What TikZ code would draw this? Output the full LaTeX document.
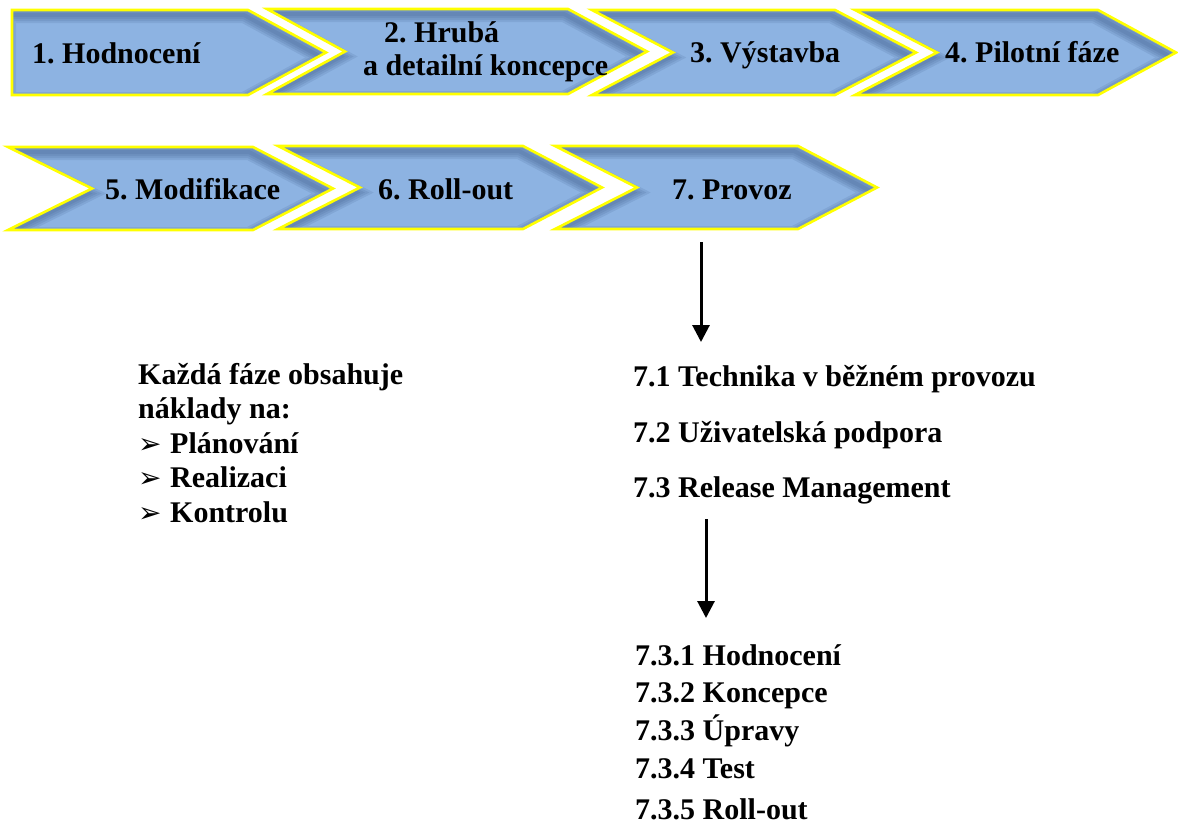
\documentclass[tikz,border=0pt]{standalone}
\usepackage{fontspec}
\setmainfont{Liberation Serif}
\newfontfamily\symfont{DejaVu Sans}
\usepackage{tikz}
\usetikzlibrary{calc,positioning,arrows.meta}
\frenchspacing
\definecolor{phaseblue}{HTML}{8DB3E2}
\definecolor{phaseshade}{HTML}{2E4A78}
\definecolor{phaseyellow}{HTML}{FFFF00}
\tikzset{
  phasefill/.style={fill=phaseblue},
  phaseshadow/.style={draw=phaseshade,opacity=0.12,line join=miter},
  phaseborder/.style={draw=phaseyellow,line width=2.6pt,line join=miter},
  phasetext/.style={anchor=base west,inner sep=0pt,font=\fontsize{30}{33}\selectfont\bfseries},
  listtext/.style={anchor=base west,inner sep=0pt,align=left,font=\fontsize{30}{34.5}\selectfont\bfseries},
  downarrow/.style={line width=3pt,-{Triangle[length=17pt,width=17pt]}}
}
\newcommand{\bul}{\makebox[32pt][l]{\symfont\fontsize{28}{28}\selectfont ➢}}
% chevron: left, notch, flat end, tip, top, bottom
\newcommand{\chevron}[6]{%
  \begin{scope}
    \clip (#1,#5) -- (#3,#5) -- (#4,{(#5+#6)/2}) -- (#3,#6) -- (#1,#6) -- (#2,{(#5+#6)/2}) -- cycle;
    \fill[phasefill] (#1,#5) -- (#3,#5) -- (#4,{(#5+#6)/2}) -- (#3,#6) -- (#1,#6) -- (#2,{(#5+#6)/2}) -- cycle;
    \foreach \w in {4,8,12,16}
      \draw[phaseshadow,line width=\w pt,xshift=-4pt,yshift=-5pt] (#1,#5) -- (#3,#5) -- (#4,{(#5+#6)/2}) -- (#3,#6) -- (#1,#6) -- (#2,{(#5+#6)/2}) -- cycle;
  \end{scope}
  \draw[phaseborder] (#1,#5) -- (#3,#5) -- (#4,{(#5+#6)/2}) -- (#3,#6) -- (#1,#6) -- (#2,{(#5+#6)/2}) -- cycle;
}

\begin{document}
\begin{tikzpicture}[x=1pt,y=-1pt]
  \useasboundingbox[fill=white] (0,0) rectangle (1178,830);

  % first row of phases
  \chevron{12}{12}{248}{326}{10}{95}
  \chevron{267}{345}{568}{647}{9}{94}
  \chevron{592}{673}{835}{916}{10}{95}
  \chevron{855}{937}{1098}{1176}{10}{95}
  % second row of phases
  \chevron{8}{92}{253}{333}{147}{230}
  \chevron{278}{360}{523}{602}{146}{229}
  \chevron{555}{637}{798}{877}{146}{229}

  \node[phasetext] (p1) at (32,63) {1. Hodnocení};
  \node[phasetext,align=left] (p2) at (363,75) {\hspace*{21pt}2. Hrubá\\a detailní koncepce};
  \node[phasetext] (p3) at (690,62) {3. Výstavba};
  \node[phasetext] (p4) at (945,62) {4. Pilotní fáze};
  \node[phasetext] (p5) at (105,199) {5. Modifikace};
  \node[phasetext] (p6) at (378,199) {6. Roll-out};
  \node[phasetext] (p7) at (672,199) {7. Provoz};

  % costs of each phase
  \node[listtext] (costs) at (138,522) {Každá fáze obsahuje\\náklady na:\\
    \bul Plánování\\\bul Realizaci\\\bul Kontrolu};

  % operation
  \node[phasetext] (t71) at (633,386) {7.1 Technika v běžném provozu};
  \node[phasetext] (t72) at (633,442) {7.2 Uživatelská podpora};
  \node[phasetext] (t73) at (633,497) {7.3 Release Management};

  \node[phasetext] (t731) at (635,665) {7.3.1 Hodnocení};
  \node[phasetext] (t732) at (635,702) {7.3.2 Koncepce};
  \node[phasetext] (t733) at (635,740) {7.3.3 Úpravy};
  \node[phasetext] (t734) at (635,778) {7.3.4 Test};
  \node[phasetext] (t735) at (635,819) {7.3.5 Roll-out};

  \coordinate (a1s) at (701,242);
  \coordinate (a1e) at (701,342);
  \coordinate (a2s) at (706,519);
  \coordinate (a2e) at (706,618);
  \draw[downarrow] (a1s) -- (a1e);
  \draw[downarrow] (a2s) -- (a2e);
\end{tikzpicture}
\end{document}
